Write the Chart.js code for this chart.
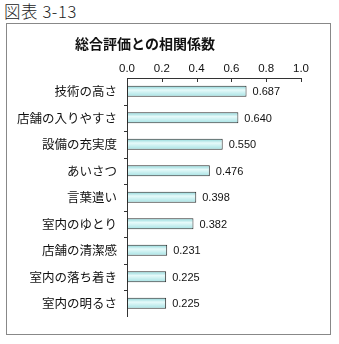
<!DOCTYPE html>
<html>
<head>
<meta charset="utf-8">
<script src="https://cdn.jsdelivr.net/npm/chart.js@4"></script>
<style>
  html, body { margin: 0; padding: 0; background: #fff; }
  #page { position: relative; width: 339px; height: 344px; overflow: hidden; }
  #caption { position: absolute; left: 4px; top: -1px; font: 300 16.5px "Noto Sans CJK JP", sans-serif; color: #222; letter-spacing: 0.6px; }
  #frame { position: absolute; left: 6px; top: 23px; width: 323px; height: 310px; border: 1px solid #888; }
  #title { position: absolute; left: 0; top: 9px; width: 276px; text-align: center; font: bold 14px "Noto Sans CJK JP", sans-serif; color: #111; }
  #wrap { position: absolute; left: 0; top: 0; width: 323px; height: 310px; }
</style>
</head>
<body>
<div id="page">
  <div id="caption">図表 3-13</div>
  <div id="frame">
    <div id="wrap"><canvas id="myChart"></canvas></div>
    <div id="title">総合評価との相関係数</div>
  </div>
</div>
<script>
const labels = [
    '技術の高さ',
    '店舗の入りやすさ',
    '設備の充実度',
    'あいさつ',
    '言葉遣い',
    '室内のゆとり',
    '店舗の清潔感',
    '室内の落ち着き',
    '室内の明るさ'
];
const values = [0.687, 0.640, 0.550, 0.476, 0.398, 0.382, 0.231, 0.225, 0.225];
const valueText = ['0.687', '0.640', '0.550', '0.476', '0.398', '0.382', '0.231', '0.225', '0.225'];

// shaded cyan fill, brighter along the middle of each bar
function barFill(c) {
    const chart = c.chart;
    const y = chart.scales && chart.scales.y;
    if (!y || c.dataIndex == null) return '#b5e9ea';
    const mid = y.getPixelForValue(c.dataIndex);
    if (!isFinite(mid)) return '#b5e9ea';
    const g = chart.ctx.createLinearGradient(0, mid - 6, 0, mid + 6);
    g.addColorStop(0, '#7ccfd2');
    g.addColorStop(0.4, '#e6fafa');
    g.addColorStop(1, '#9fdfe1');
    return g;
}

// value text at the end of each bar + short axis tick marks
const extras = {
    id: 'extras',
    afterDatasetsDraw(chart) {
        const ctx = chart.ctx;
        const meta = chart.getDatasetMeta(0);
        ctx.save();
        ctx.fillStyle = '#111';
        ctx.font = '11px "Liberation Sans", Arial, sans-serif';
        ctx.textBaseline = 'middle';
        ctx.textAlign = 'left';
        meta.data.forEach((bar, i) => {
            ctx.fillText(valueText[i], bar.x + 6, bar.y + 1);
        });

        const xs = chart.scales.x, ys = chart.scales.y;
        ctx.strokeStyle = '#333';
        ctx.lineWidth = 1;
        ctx.beginPath();
        xs.ticks.forEach(t => {
            const px = Math.round(xs.getPixelForValue(t.value)) + 0.5;
            ctx.moveTo(px, ys.top);
            ctx.lineTo(px, ys.top + 4);
        });
        const step = (ys.bottom - ys.top) / labels.length;
        for (let i = 1; i < labels.length; i++) {
            const py = Math.round(ys.top + step * i) + 0.5;
            ctx.moveTo(xs.left - 3, py);
            ctx.lineTo(xs.left, py);
        }
        ctx.stroke();
        ctx.restore();
    }
};

const config = {
    type: 'bar',
    data: {
        labels: labels,
        datasets: [{
            data: values,
            backgroundColor: barFill,
            borderColor: '#2b2b2b',
            borderWidth: 1,
            borderSkipped: false,
            categoryPercentage: 1,
            barPercentage: 0.42
        }]
    },
    options: {
        indexAxis: 'y',
        responsive: true,
        maintainAspectRatio: false,
        animation: false,
        layout: { padding: { left: 0, top: 0, right: 29, bottom: 11 } },
        plugins: {
            legend: { display: false },
            tooltip: { enabled: false }
        },
        scales: {
            x: {
                position: 'top',
                min: 0,
                max: 1,
                afterFit(s) { s.height = 54; },
                grid: { display: false, drawTicks: false },
                border: { color: '#333', width: 1 },
                ticks: {
                    stepSize: 0.2,
                    padding: 2,
                    color: '#111',
                    font: { family: '"Liberation Sans", Arial, sans-serif', size: 11.5 },
                    callback: v => Number(v).toFixed(1)
                }
            },
            y: {
                afterFit(s) { s.width = 120; },
                grid: { display: false, drawTicks: false },
                border: { color: '#333', width: 1 },
                ticks: {
                    padding: 10,
                    color: '#111',
                    font: { family: '"Noto Sans CJK JP", sans-serif', size: 12.5 }
                }
            }
        }
    },
    plugins: [extras]
};

var myChart = new Chart(document.getElementById('myChart'), config);
</script>
</body>
</html>
